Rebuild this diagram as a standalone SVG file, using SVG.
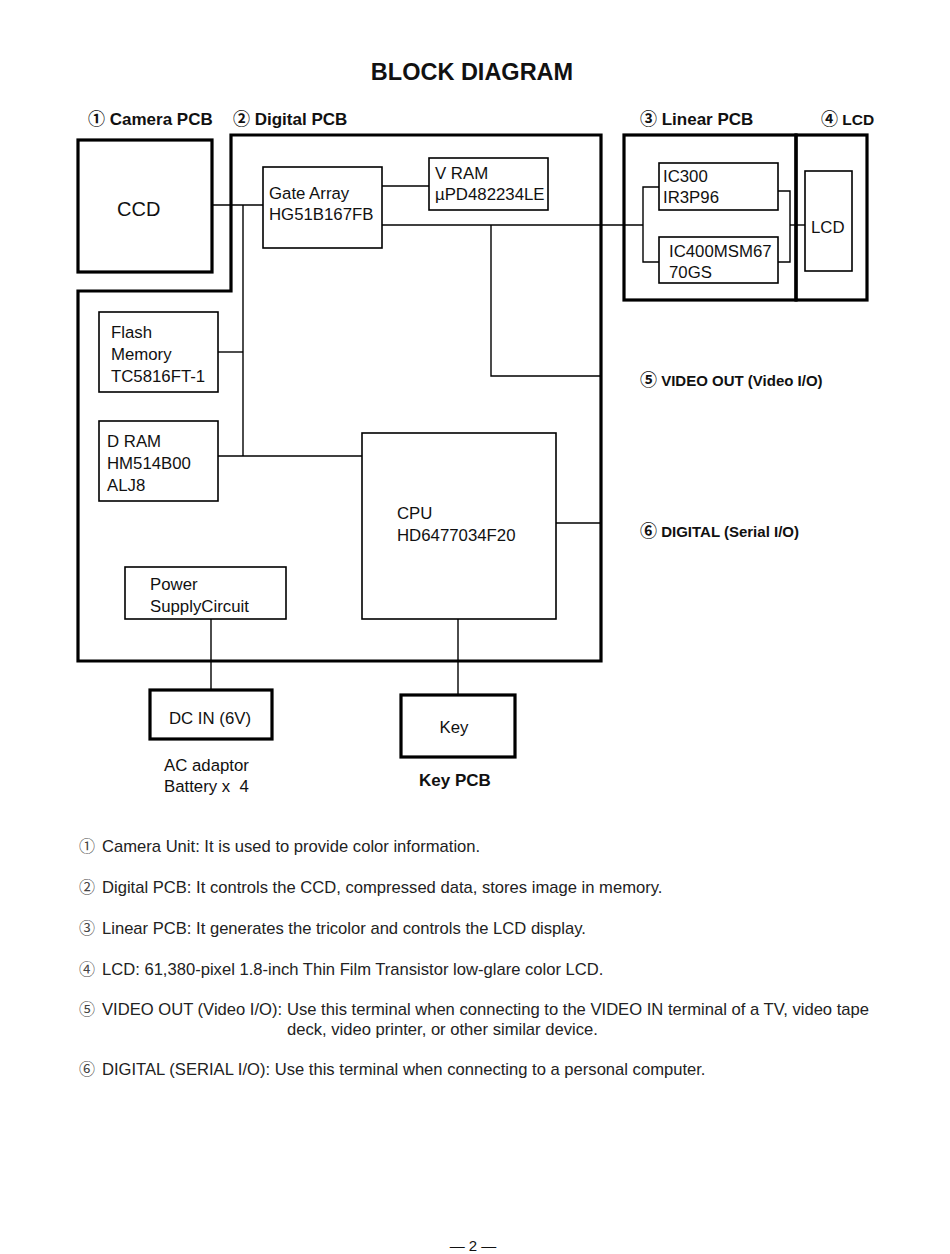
<svg xmlns="http://www.w3.org/2000/svg" width="950" height="1254" viewBox="0 0 950 1254">
<style>
text{font-family:"Liberation Sans","DejaVu Sans",Arial,sans-serif;fill:#111}
.c{font-family:"Noto Sans CJK JP","DejaVu Sans",sans-serif;font-weight:bold}
.cn{font-family:"Noto Sans CJK JP","DejaVu Sans",sans-serif;font-weight:normal;fill:#444}
.b{font-weight:bold}
.lbl{font-size:17px;font-weight:bold}
.t{font-size:16.8px}
.n{font-size:16.6px;fill:#222}
.thick{fill:none;stroke:#000;stroke-width:3.2}
.box{fill:none;stroke:#000;stroke-width:1.6}
.w{fill:none;stroke:#000;stroke-width:1.4}
</style>
<rect width="950" height="1254" fill="#fff"/>
<text x="472" y="80" text-anchor="middle" class="b" font-size="23.5">BLOCK DIAGRAM</text>
<text x="88" y="125" class="lbl"><tspan class="c">①</tspan> Camera PCB</text>
<text x="233" y="125" class="lbl"><tspan class="c">②</tspan> Digital PCB</text>
<text x="640" y="125" class="lbl"><tspan class="c">③</tspan> Linear PCB</text>
<text x="821" y="125" class="b" font-size="15.5"><tspan class="c" font-size="17">④</tspan> LCD</text>
<text x="640" y="386" class="b" font-size="15"><tspan class="c" font-size="17">⑤</tspan> VIDEO OUT (Video I/O)</text>
<text x="640" y="537" class="b" font-size="15"><tspan class="c" font-size="17">⑥</tspan> DIGITAL (Serial I/O)</text>

<g id="camera-pcb"><rect x="78" y="140" width="134" height="132" class="thick"/><text x="117" y="216" font-size="20">CCD</text></g>
<g id="digital-pcb"><path d="M231 135 H601 V661 H78 V291 H231 Z" class="thick"/></g>
<g id="gate-array"><rect x="263" y="167" width="119" height="81" class="box"/><text x="269" y="199" class="t">Gate Array</text><text x="269" y="220" class="t">HG51B167FB</text></g>
<g id="vram"><rect x="429" y="158" width="119" height="52" class="box"/><text x="435" y="179" class="t">V RAM</text><text x="435" y="200" class="t">µPD482234LE</text></g>
<g id="flash"><rect x="99" y="312" width="119" height="80" class="box"/><text x="111" y="338" class="t">Flash</text><text x="111" y="360" class="t">Memory</text><text x="111" y="382" class="t">TC5816FT-1</text></g>
<g id="dram"><rect x="99" y="421" width="119" height="80" class="box"/><text x="107" y="447" class="t">D RAM</text><text x="107" y="469" class="t">HM514B00</text><text x="107" y="491" class="t">ALJ8</text></g>
<g id="cpu"><rect x="362" y="433" width="194" height="186" class="box"/><text x="397" y="519" class="t">CPU</text><text x="397" y="541" class="t">HD6477034F20</text></g>
<g id="power"><rect x="125" y="567" width="161" height="52" class="box"/><text x="150" y="590" class="t">Power</text><text x="150" y="612" class="t">SupplyCircuit</text></g>
<g id="dc-in"><rect x="150" y="690" width="122" height="49" class="thick"/><text x="210" y="724" text-anchor="middle" class="t">DC IN (6V)</text><text x="164" y="771" class="t">AC adaptor</text><text x="164" y="792" class="t">Battery x&#160; 4</text></g>
<g id="key-pcb"><rect x="401" y="695" width="114" height="62" class="thick"/><text x="454" y="733" text-anchor="middle" class="t">Key</text><text x="455" y="786" text-anchor="middle" class="lbl">Key PCB</text></g>
<g id="linear-pcb"><rect x="624" y="135" width="172" height="165" class="thick"/></g>
<g id="ic300"><rect x="659" y="163" width="119" height="47" class="box"/><text x="663" y="182" class="t">IC300</text><text x="663" y="203" class="t">IR3P96</text></g>
<g id="ic400"><rect x="659" y="237" width="119" height="46" class="box"/><text x="669" y="257" class="t">IC400MSM67</text><text x="669" y="278" class="t">70GS</text></g>
<g id="lcd"><rect x="796" y="135" width="71" height="165" class="thick"/><rect x="805" y="171" width="47" height="100" class="box"/><text x="811" y="233" class="t">LCD</text></g>

<g id="connectors" class="w">
<path d="M212 205 H263"/>
<path d="M243 205 V456"/>
<path d="M218 352 H243"/>
<path d="M218 456 H362"/>
<path d="M382 186 H429"/>
<path d="M382 225 H643"/>
<path d="M491 225 V376 H601"/>
<path d="M556 523 H601"/>
<path d="M211 619 V690"/>
<path d="M458 619 V695"/>
<path d="M659 187 H643 V262 H659"/>
<path d="M778 191 H790 V262 H778"/>
<path d="M790 225 H805"/>
</g>

<g id="notes">
<text x="79" y="852" class="cn" font-size="16">①</text><text x="102" y="852" class="n">Camera Unit: It is used to provide color information.</text>
<text x="79" y="893" class="cn" font-size="16">②</text><text x="102" y="893" class="n">Digital PCB: It controls the CCD, compressed data, stores image in memory.</text>
<text x="79" y="934" class="cn" font-size="16">③</text><text x="102" y="934" class="n">Linear PCB: It generates the tricolor and controls the LCD display.</text>
<text x="79" y="975" class="cn" font-size="16">④</text><text x="102" y="975" class="n">LCD: 61,380-pixel 1.8-inch Thin Film Transistor low-glare color LCD.</text>
<text x="79" y="1015" class="cn" font-size="16">⑤</text><text x="102" y="1015" class="n">VIDEO OUT (Video I/O):</text>
<text x="287" y="1015" class="n">Use this terminal when connecting to the VIDEO IN terminal of a TV, video tape</text>
<text x="287" y="1035" class="n">deck, video printer, or other similar device.</text>
<text x="79" y="1075" class="cn" font-size="16">⑥</text><text x="102" y="1075" class="n">DIGITAL (SERIAL I/O): Use this terminal when connecting to a personal computer.</text>
</g>
<text x="473" y="1251" text-anchor="middle" font-size="15">— 2 —</text>
</svg>
